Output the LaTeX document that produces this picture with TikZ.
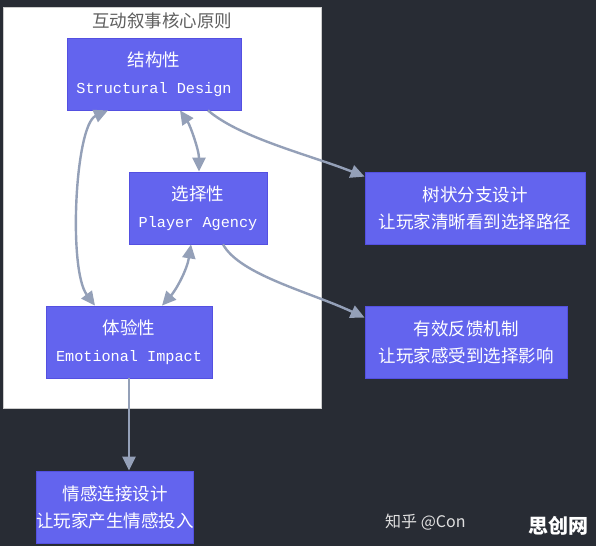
\documentclass[tikz,border=0pt]{standalone}
\usepackage{fontspec}
\newfontfamily\cjk{Noto Sans CJK SC}
\newfontfamily\mono{Liberation Mono}
\usetikzlibrary{arrows.meta}
\definecolor{bgc}{RGB}{40,44,52}
\definecolor{boxc}{RGB}{99,100,238}
\definecolor{boxline}{RGB}{84,80,225}
\definecolor{arrc}{RGB}{148,160,184}
\definecolor{titlec}{RGB}{95,95,95}
\tikzset{
  box/.style={draw=boxline, line width=0.8pt, fill=boxc, text=white, align=center,
    inner sep=0pt, minimum height=72pt, font={\cjk\fontsize{17.5}{27}\selectfont}},
  conn/.style={draw=arrc, line width=2.4pt, -{Triangle[length=14pt,width=13pt]}},
  biconn/.style={draw=arrc, line width=2.4pt, {Triangle[length=14pt,width=13pt]}-{Triangle[length=14pt,width=13pt]}},
}
\newcommand{\en}[1]{{\mono\fontsize{15.2}{27}\selectfont #1}}
\begin{document}
\begin{tikzpicture}[x=1pt,y=-1pt]
\fill[bgc] (0,0) rectangle (596,546);
\useasboundingbox (0,0) rectangle (596,546);
% cluster
\draw[draw=gray!40, fill=white, line width=0.6pt] (3,7) rectangle (321,408);
\node[text=titlec, font={\cjk\fontsize{17.5}{20}\selectfont}] (title) at (162,21) {互动叙事核心原则};
% nodes
\node[box, minimum width=174pt] (S) at (154,74) {结构性\\\en{Structural Design}};
\node[box, minimum width=138pt] (P) at (198,208) {选择性\\\en{Player Agency}};
\node[box, minimum width=166pt] (E) at (129,342) {体验性\\\en{Emotional Impact}};
\node[box, minimum width=220pt] (T) at (475,208) {树状分支设计\\让玩家清晰看到选择路径};
\node[box, minimum width=202pt] (F) at (466,342) {有效反馈机制\\让玩家感受到选择影响};
\node[box, minimum width=156pt] (Q) at (115,507) {情感连接设计\\让玩家产生情感投入};
% connectors
\draw[biconn] ([xshift=-46pt]S.south) .. controls (75,125) and (68,270) .. ([xshift=-34pt]E.north);
\draw[biconn] ([xshift=26pt]S.south) .. controls (190,125) and (199,150) .. ([xshift=1pt]P.north);
\draw[biconn] ([xshift=-7pt]P.south) .. controls (187,270) and (176,290) .. ([xshift=33pt]E.north);
\draw[conn] ([xshift=54pt]S.south) .. controls (240,138) and (310,155) .. ([yshift=-5pt]T.north west);
\draw[conn] ([xshift=25pt]P.south) .. controls (240,275) and (310,292) .. ([yshift=-12pt]F.north west);
\draw[conn] (E.south) -- (E.south |- Q.north);
% watermark
\node[anchor=west, text=white!88!black, font={\cjk\fontsize{16}{18}\selectfont}, inner sep=0pt] (wm) at (385,522) {知乎 @Con};
\node[anchor=west, text=white, font={\cjk\bfseries\fontsize{20}{22}\selectfont}, inner sep=0pt] (wm2) at (528,526) {思创网};
\end{tikzpicture}
\end{document}
